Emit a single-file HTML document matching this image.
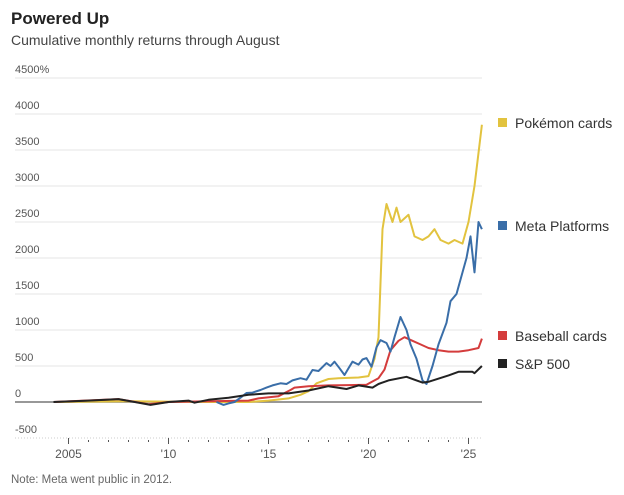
<!DOCTYPE html>
<html><head><meta charset="utf-8"><style>
body{margin:0;background:#fff;font-family:"Liberation Sans",sans-serif;}
</style></head><body>
<svg id="chart" width="624" height="490" xmlns="http://www.w3.org/2000/svg" font-family="Liberation Sans, sans-serif">
<text x="11" y="24" font-size="17" font-weight="bold" fill="#222">Powered Up</text>
<text x="11" y="45" font-size="14" fill="#444">Cumulative monthly returns through August</text>
<text x="11" y="483" font-size="11.5" fill="#666">Note: Meta went public in 2012.</text>
<g id="grid"></g><g id="axes"></g><g id="series"></g><g id="legend"></g>
</svg>
<script>
const yTicks=[4500,4000,3500,3000,2500,2000,1500,1000,500,0,-500];
const yTickLabels=["4500%","4000","3500","3000","2500","2000","1500","1000","500","0","-500"];
const xLabelYears=[2005,2010,2015,2020,2025];
const xLabels=["2005","'10","'15","'20","'25"];
const pokemonX=[2004.25,2008,2012,2014,2015,2016,2016.6,2017,2017.4,2018,2018.5,2019,2019.5,2020,2020.3,2020.5,2020.7,2020.9,2021.2,2021.4,2021.6,2022,2022.3,2022.7,2023,2023.3,2023.6,2024,2024.3,2024.7,2025,2025.3,2025.67];
const pokemonY=[0,10,0,0,20,50,100,150,260,320,330,335,340,360,600,900,2400,2750,2500,2700,2500,2600,2300,2250,2300,2400,2250,2200,2250,2200,2500,3000,3850];
const metaX=[2012.4,2012.75,2013,2013.3,2013.6,2013.9,2014.2,2014.6,2014.9,2015.2,2015.6,2015.9,2016.2,2016.6,2016.9,2017.2,2017.5,2017.9,2018.1,2018.3,2018.55,2018.8,2019.0,2019.2,2019.5,2019.7,2019.9,2020.15,2020.4,2020.6,2020.9,2021.1,2021.3,2021.6,2021.9,2022.1,2022.4,2022.7,2022.9,2023.2,2023.5,2023.9,2024.1,2024.4,2024.7,2024.9,2025.1,2025.3,2025.5,2025.67];
const metaY=[0,-40,-20,0,60,125,130,167,200,230,260,250,300,330,310,444,430,540,500,560,470,375,470,560,520,590,610,490,760,860,820,700,900,1180,1000,800,600,300,250,500,800,1100,1400,1500,1800,2000,2300,1800,2500,2400];
const baseballX=[2004.25,2007.5,2009,2010,2012,2014,2014.5,2015.5,2016.1,2016.3,2017,2018,2019,2019.9,2020.5,2020.8,2021.1,2021.5,2021.8,2022.2,2022.6,2023,2023.5,2024,2024.5,2025,2025.5,2025.67];
const baseballY=[0,40,-30,0,10,20,50,80,167,200,220,230,235,240,330,450,720,850,900,850,800,750,720,700,700,720,750,880];
const spX=[2004.25,2006,2007.5,2009.1,2010,2011,2011.3,2012,2013,2014,2015,2016,2017,2018,2018.9,2019.5,2020.2,2020.5,2021,2021.9,2022.7,2023,2024,2024.5,2025.2,2025.3,2025.67];
const spY=[0,20,40,-40,0,20,-10,30,60,100,120,120,160,220,180,230,200,250,300,350,270,280,370,420,420,400,500];
const legendNames=["Pokémon cards","Meta Platforms","Baseball cards","S&P 500"];
const legendValues=[3850,2400,900,500];
const NS="http://www.w3.org/2000/svg";
const xs=y=>68.5+(y-2005)*20;
const ys=v=>402-v*0.072;
function mk(tag,attrs,parent){const e=document.createElementNS(NS,tag);for(const k in attrs)e.setAttribute(k,attrs[k]);document.getElementById(parent).appendChild(e);return e;}
yTicks.forEach((t,i)=>{
  if(t!==0){const l=mk('line',{x1:15,x2:482,y1:ys(t),y2:ys(t),stroke:t===-500?'#ccc':'#e6e6e6','stroke-width':1,'stroke-dasharray':t===-500?'1,2':''},'grid');
  
  }
  const tx=mk('text',{x:15,y:ys(t)-5,'font-size':11,fill:'#555'},'axes');tx.textContent=yTickLabels[i];
  
  
});
for(let y=2005;y<=2025;y++){
  const t=mk('line',{x1:xs(y),x2:xs(y),y1:ys(-500)+(y%5===0?0:2),y2:ys(-500)+(y%5===0?6:4),stroke:'#555','stroke-width':1},'axes');
  
  
}
xLabelYears.forEach((y,i)=>{const t=mk('text',{x:xs(y),y:458,'font-size':12,fill:'#555','text-anchor':'middle'},'axes');t.textContent=xLabels[i];
  
  });
const zl=mk('line',{x1:15,x2:482,y1:ys(0),y2:ys(0),stroke:'#777','stroke-width':1.5},'axes');


const series=[[pokemonX,pokemonY,'#e2c33f','pokemon-line'],[baseballX,baseballY,'#d43c3c','baseball-line'],[metaX,metaY,'#3a6ea8','meta-line'],[spX,spY,'#222','sp500-line']];
series.forEach(s=>{
  const d=s[0].map((x,i)=>(i?'L':'M')+xs(x).toFixed(1)+','+ys(s[1][i]).toFixed(1)).join('');
  const p=mk('path',{d:d,fill:'none',stroke:s[2],'stroke-width':2,'stroke-linejoin':'round'},'series');
  
  
});
const legColors=['#e2c33f','#3a6ea8','#d43c3c','#222'];
const legY=[123,226,336,364];
legendNames.forEach((n,i)=>{
  const r=mk('rect',{x:498,y:legY[i]-5,width:9,height:9,fill:legColors[i]},'legend');
  
  
  const t=mk('text',{x:515,y:legY[i]+5,'font-size':14,fill:'#333'},'legend');t.textContent=n;
  
  
});
</script>
</body></html>
